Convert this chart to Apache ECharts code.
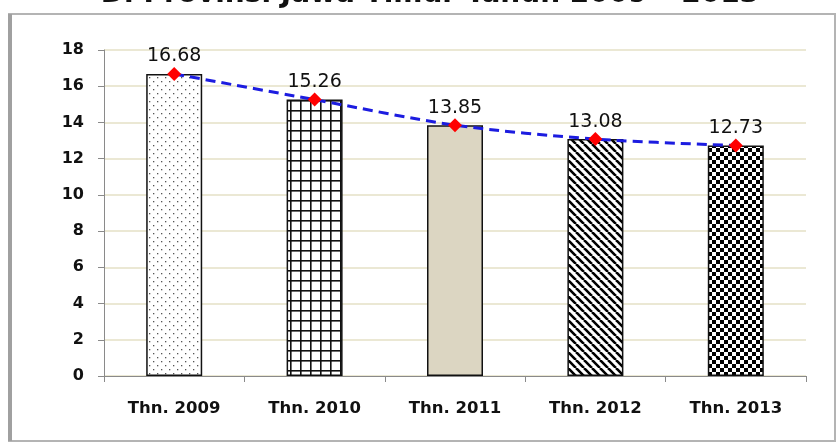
<!DOCTYPE html>
<html>
<head>
<meta charset="utf-8">
<script src="https://cdn.jsdelivr.net/npm/echarts@6/dist/echarts.min.js"></script>
<style>html,body{margin:0;padding:0;background:#fff}#c{width:836px;height:446px}</style>
</head>
<body>
<div id="c"></div>
<script>
const categories = ['Thn. 2009', 'Thn. 2010', 'Thn. 2011', 'Thn. 2012', 'Thn. 2013'];
const values = [16.68, 15.26, 13.85, 13.08, 12.73];
const yTicks = [0, 2, 4, 6, 8, 10, 12, 14, 16, 18];
const titleText = 'Di Provinsi Jawa Timur Tahun 2009 – 2013';

function mk(w, h, draw) {
  const c = document.createElement('canvas');
  c.width = w; c.height = h;
  const g = c.getContext('2d');
  draw(g, w, h);
  return c;
}
const patDots = mk(8, 8, (g) => {
  g.fillStyle = '#fff'; g.fillRect(0, 0, 8, 8);
  g.fillStyle = '#555';
  g.fillRect(1, 1, 1.3, 1.3);
  g.fillRect(5, 5, 1.3, 1.3);
});
const patGrid = mk(10, 10, (g) => {
  g.fillStyle = '#fff'; g.fillRect(0, 0, 10, 10);
  g.fillStyle = '#111';
  g.fillRect(0, 0, 1.6, 10);
  g.fillRect(0, 0, 10, 1.6);
});
const patDiag = mk(8, 8, (g) => {
  g.fillStyle = '#fff'; g.fillRect(0, 0, 8, 8);
  g.strokeStyle = '#000'; g.lineWidth = 2.6;
  g.beginPath();
  for (let k = -8; k <= 16; k += 8) { g.moveTo(k, 0); g.lineTo(k + 8, 8); }
  g.stroke();
});
const patCheck = mk(8, 8, (g) => {
  g.fillStyle = '#fff'; g.fillRect(0, 0, 8, 8);
  g.fillStyle = '#000';
  g.fillRect(0, 0, 4, 4); g.fillRect(4, 4, 4, 4);
});
const fills = [
  { image: patDots, repeat: 'repeat' },
  { image: patGrid, repeat: 'repeat' },
  '#dcd6c2',
  { image: patDiag, repeat: 'repeat' },
  { image: patCheck, repeat: 'repeat' }
];

const chart = echarts.init(document.getElementById('c'), null, { renderer: 'canvas' });
chart.setOption({
  animation: false,
  backgroundColor: '#fff',
  grid: { left: 104, right: 30, top: 50, bottom: 70 },
  graphic: [
    { type: 'rect', shape: { x: 9, y: 14, width: 826, height: 427 }, style: { fill: 'none', stroke: '#b4b4b4', lineWidth: 2 }, z: -1 },
    { type: 'rect', shape: { x: 8, y: 14, width: 4, height: 427 }, style: { fill: '#a0a0a0' }, z: -1 },
    { type: 'text', x: 430, y: 8.5, style: { text: titleText, font: 'bold 28px "DejaVu Sans"', fill: '#111', align: 'center', verticalAlign: 'bottom' } }
  ],
  xAxis: {
    type: 'category',
    data: categories,
    axisLine: { lineStyle: { color: '#8a8a8a', width: 1 } },
    axisTick: { show: true, length: 6, lineStyle: { color: '#8a8a8a' } },
    axisLabel: { fontFamily: 'DejaVu Sans', fontWeight: 'bold', fontSize: 16.5, color: '#111', margin: 24 }
  },
  yAxis: {
    type: 'value',
    min: yTicks[0], max: yTicks[yTicks.length - 1], interval: 2,
    axisLine: { show: true, lineStyle: { color: '#8a8a8a', width: 1 } },
    axisTick: { show: true, length: 6, lineStyle: { color: '#8a8a8a' } },
    splitLine: { lineStyle: { color: '#e4e0c6', width: 1.5 } },
    axisLabel: { fontFamily: 'DejaVu Sans', fontWeight: 'bold', fontSize: 16, color: '#111', margin: 20 }
  },
  series: [
    {
      type: 'bar',
      barWidth: 56,
      data: values.map((v, i) => ({ value: v, itemStyle: { color: fills[i] } })),
      itemStyle: { borderColor: '#111', borderWidth: 1.5 }
    },
    {
      type: 'line',
      data: values,
      smooth: 0.3,
      symbol: 'diamond',
      symbolSize: 14,
      itemStyle: { color: '#ff0000' },
      lineStyle: { color: '#1c1ce0', width: 3, type: [10, 6] },
      label: { show: true, position: 'top', distance: 1, fontFamily: 'DejaVu Sans', fontWeight: 500, fontSize: 19, color: '#111', formatter: (p) => p.value.toFixed(2) },
      z: 5
    }
  ]
});
</script>
</body>
</html>
